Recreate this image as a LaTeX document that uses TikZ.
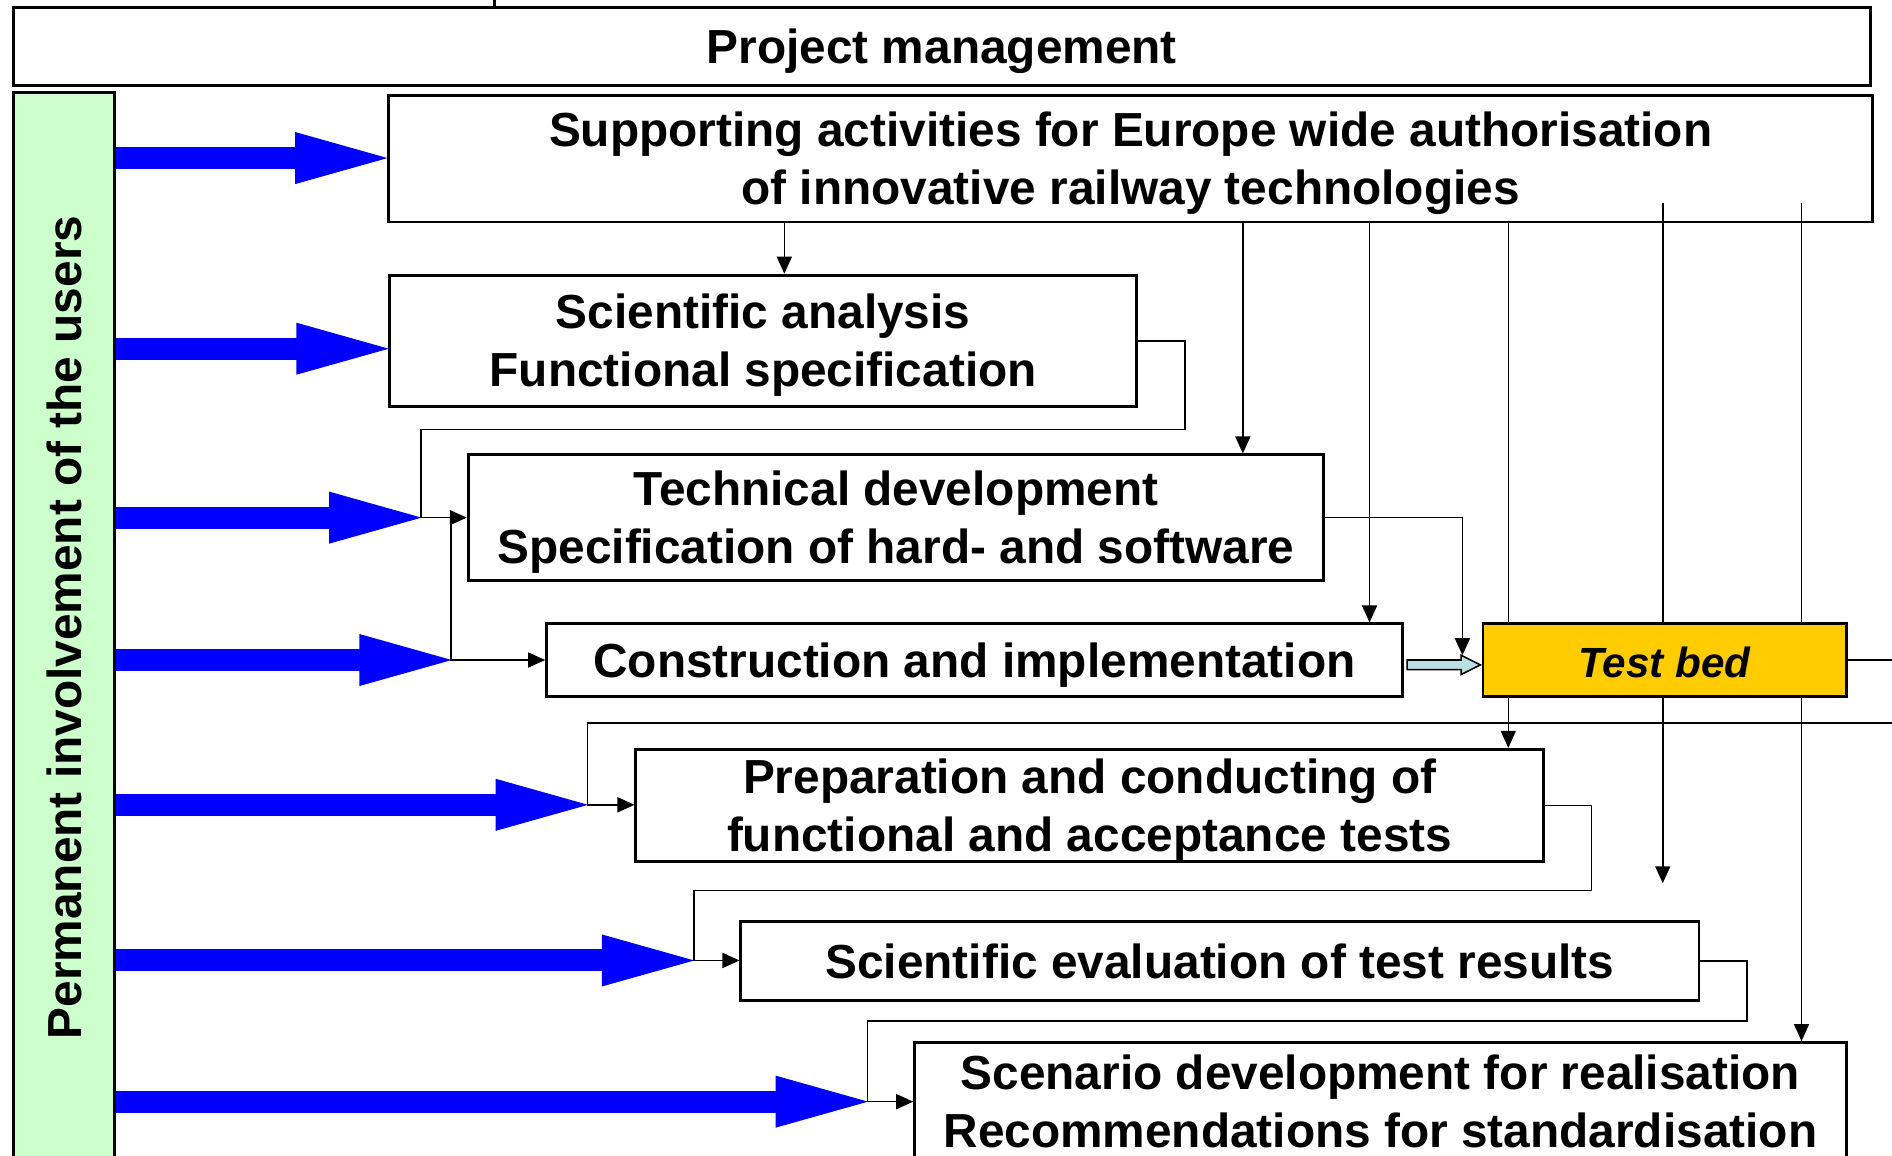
\documentclass[tikz,border=0pt]{standalone}
\usepackage{fontspec}
\setmainfont{Liberation Sans}
\usetikzlibrary{arrows.meta,fit,calc,backgrounds}

\definecolor{userbar}{RGB}{204,255,204}
\definecolor{testgold}{RGB}{255,204,0}
\definecolor{feedcyan}{RGB}{185,225,228}

\tikzset{
  wp/.style={draw, line width=0.8pt, inner sep=0pt},
  every label/.style={align=center, inner sep=0pt, text height=9.7pt, text depth=0pt},
  twolines/.style={text height=26.2pt},
  conn/.style={line width=0.45pt},
  link/.style={conn, -{Triangle[length=1.7mm,width=1.5mm]}},
  userarrow/.style={blue, line width=2.2mm, shorten >=-1.4mm, -{Triangle[length=10.6mm,width=4.4mm]}},
}

\begin{document}
\begin{tikzpicture}[x=0.12066mm, y=-0.12066mm, font=\fontsize{13.6pt}{16.5pt}\selectfont\bfseries]
\useasboundingbox (0,0) rectangle (1568,958);
\begin{scope}[on background layer]
\fill[white] (0,0) rectangle (1568,958);
\end{scope}

\node[wp, fit={(11,6) (1550,71)}, label=center:{Project management}] (pm) {};
\node[wp, fill=userbar, fit={(11,77) (95,963)}] (users) {};
\node[rotate=90] (userstext) at (users.center) {Permanent involvement of the users};

\node[wp, fit={(322,79) (1552,184)}, label={[twolines]center:{Supporting activities for Europe wide authorisation\\of innovative railway technologies}}] (sup) {};
\node[wp, fit={(323,228) (942,337)}, label={[twolines]center:{Scientific analysis\\Functional specification}}] (ana) {};
\node[wp, fit={(388,377) (1097,481)}, label={[twolines]center:{Technical development\\Specification of hard- and software}}] (tech) {};
\node[wp, fit={(453,517) (1162,577)}, label=center:{Construction and implementation}] (constr) {};
\node[wp, fill=testgold, fit={(1229,517) (1530,577)}, label={[font=\fontsize{12pt}{14pt}\selectfont\bfseries\itshape]center:Test bed}] (testbed) {};
\node[wp, fit={(527,621) (1279,714)}, label={[twolines]center:{Preparation and conducting of\\functional and acceptance tests}}] (prep) {};
\node[wp, fit={(614,764) (1408,829)}, label=center:{Scientific evaluation of test results}] (eval) {};
\node[wp, fit={(758,864) (1530,962)}, label={[twolines]center:{Scenario development for realisation\\Recommendations for standardisation}}] (scen) {};

\coordinate (j3) at (349,429);
\coordinate (j4) at (374,547);
\coordinate (j5) at (487,667);
\coordinate (j6) at (575,796);
\coordinate (j7) at (719,913);
\coordinate (pmtop) at (410,0);
\coordinate (tbout) at (1580,547);
\coordinate (tbin) at (1580,599);
\coordinate (s5) at (1378,168);
\coordinate (e5) at (1378,732);
\coordinate (s6) at (1493,168);

% users feeding every work package
\foreach \tgt/\yy in {sup.west/131, ana.west/289, j3/429, j4/547, j5/667, j6/796, j7/913}
  \draw[userarrow] (users.east |- 0,\yy) -- (\tgt |- 0,\yy);

\begin{scope}[on background layer]
\draw[line width=0.8pt] (pmtop) -- (pmtop |- pm.north);
\foreach \xx/\tgt in {650/ana, 1030/tech, 1135/constr, 1250/prep}
  \draw[link] (sup.south -| \xx,0) -- (\tgt.north -| \xx,0);
\draw[link] (s5) -- (e5);
\draw[link] (s6) -- (scen.north -| s6);

\draw[link] (ana.east) -| (982,356) -| (j3) -- (tech.west);
\draw[link] (j3 -| j4) -- (j4) -- (constr.west);
\draw[link] (tech.east) -| (1212,543);
\draw[conn] (testbed.east) -- (tbout);
\draw[link] (tbin) -| (j5) -- (j5 -| prep.west);
\draw[link] (prep.east) -| (1319,738) -| (j6) -- (j6 -| eval.west);
\draw[link] (eval.east) -| (1448,846) -| (j7) -- (scen.west);
\end{scope}

% hand-over to the test bed
\draw[conn, fill=feedcyan] ($(constr.east)+(3,0)$) -- ($(testbed.west)+(-17,0)$) -- ++(0,-4)
  -- ($(testbed.west)+(-1,4)$) -- ($(testbed.west)+(-17,12)$) -- ++(0,-4)
  -- ($(constr.east)+(3,8)$) -- cycle;
\end{tikzpicture}
\end{document}
